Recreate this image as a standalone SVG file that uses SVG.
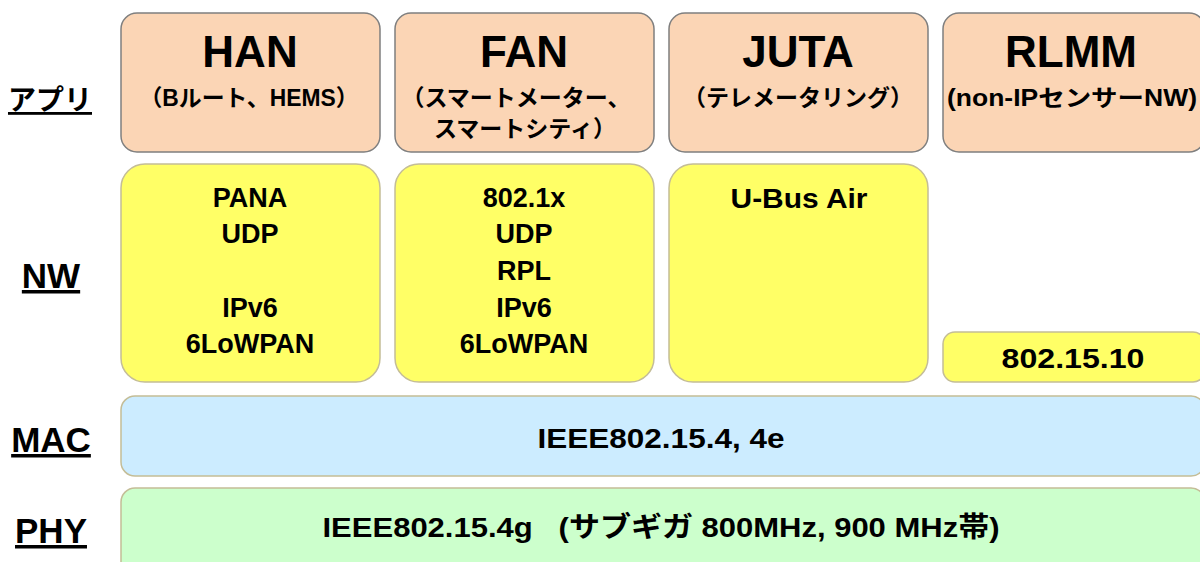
<svg xmlns="http://www.w3.org/2000/svg" width="1200" height="562" viewBox="0 0 1200 562">
<style>
.app{fill:#FBD5B5;stroke:#7F7F7F;stroke-width:1.5}
.nw{fill:#FFFF66;stroke:#C4BD97;stroke-width:1.5}
.mac{fill:#CCECFF;stroke:#C4BD97;stroke-width:1.5}
.phy{fill:#CCFFCC;stroke:#C4BD97;stroke-width:1.5}
text{font-family:"Liberation Sans","Noto Sans CJK JP",sans-serif;font-weight:bold;fill:#000;text-anchor:middle}
.h{font-size:44px}
.s{font-size:23px}
.n{font-size:27px}
.b{font-size:28px}
.l{font-size:28px;text-decoration:underline}
.le{font-size:35px;text-decoration:underline}
</style>
<g id="labels">
<text class="l" x="50" y="110">アプリ</text>
<text class="le" x="51" y="288">NW</text>
<text class="le" x="51" y="452">MAC</text>
<text class="le" x="51" y="543">PHY</text>
</g>
<g id="han">
<rect class="app" x="121" y="13" width="259" height="139" rx="16"/>
<text class="h" x="250" y="67">HAN</text>
<text class="s" x="249" y="106" textLength="219" lengthAdjust="spacingAndGlyphs">（Bルート、HEMS）</text>
</g>
<g id="fan">
<rect class="app" x="395" y="13" width="259" height="139" rx="16"/>
<text class="h" x="524" y="67">FAN</text>
<text class="s" x="516" y="106">（スマートメーター、</text>
<text class="s" x="525" y="137">スマートシティ）</text>
</g>
<g id="juta">
<rect class="app" x="669" y="13" width="259" height="139" rx="16"/>
<text class="h" x="798" y="67">JUTA</text>
<text class="s" x="798" y="106">（テレメータリング）</text>
</g>
<g id="rlmm">
<rect class="app" x="943" y="13" width="262" height="139" rx="16"/>
<text class="h" x="1071" y="67">RLMM</text>
<text class="s" x="1072" y="106" textLength="250" lengthAdjust="spacingAndGlyphs">(non-IPセンサーNW)</text>
</g>
<g id="han-nw">
<rect class="nw" x="121" y="164" width="259" height="218" rx="24"/>
<text class="n" x="250" y="207">PANA</text>
<text class="n" x="250" y="243">UDP</text>
<text class="n" x="250" y="317">IPv6</text>
<text class="n" x="250" y="353">6LoWPAN</text>
</g>
<g id="fan-nw">
<rect class="nw" x="395" y="164" width="259" height="218" rx="24"/>
<text class="n" x="524" y="207">802.1x</text>
<text class="n" x="524" y="243">UDP</text>
<text class="n" x="524" y="280">RPL</text>
<text class="n" x="524" y="317">IPv6</text>
<text class="n" x="524" y="353">6LoWPAN</text>
</g>
<g id="juta-nw">
<rect class="nw" x="669" y="164" width="259" height="218" rx="24"/>
<text class="n" x="799" y="208" textLength="137" lengthAdjust="spacingAndGlyphs">U-Bus Air</text>
</g>
<g id="rlmm-nw">
<rect class="nw" x="943" y="332" width="262" height="50" rx="12"/>
<text class="n" x="1073" y="368" textLength="143" lengthAdjust="spacingAndGlyphs">802.15.10</text>
</g>
<g id="mac">
<rect class="mac" x="121" y="396" width="1084" height="80" rx="14"/>
<text class="b" x="661" y="448" textLength="247" lengthAdjust="spacingAndGlyphs">IEEE802.15.4, 4e</text>
</g>
<g id="phy">
<rect class="phy" x="121" y="488" width="1084" height="90" rx="14"/>
<text class="b" x="661" y="537" xml:space="preserve" textLength="677" lengthAdjust="spacingAndGlyphs">IEEE802.15.4g   (サブギガ 800MHz, 900 MHz帯)</text>
</g>
<g id="connectors"/>
</svg>
